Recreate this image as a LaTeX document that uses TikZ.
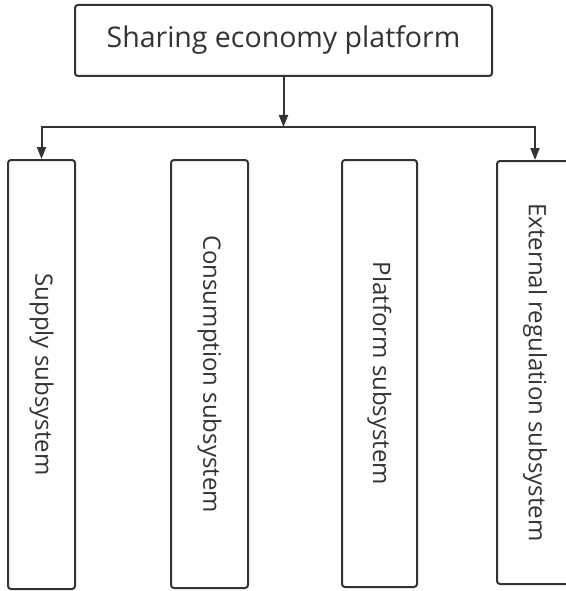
\documentclass[tikz,border=0pt]{standalone}
\usepackage{fontspec}
\setmainfont{Open Sans}
\usepackage{graphicx}
\usetikzlibrary{arrows.meta}
\definecolor{ink}{HTML}{333333}
\begin{document}
\begin{tikzpicture}[x=1pt,y=-1pt,
  box/.style={draw=ink,line width=2pt,rounded corners=3pt,inner sep=0pt,text=ink,font=\fontsize{24}{29}\selectfont},
  arr/.style={draw=ink,line width=2pt,-{Triangle[length=12pt,width=9pt]}}]
\useasboundingbox (0,0) rectangle (565,591);
\node[box,minimum width=417pt,minimum height=71pt,font=\fontsize{28.5}{34}\selectfont] (top) at (283.5,40.5) {Sharing economy platform};
\node[box,minimum width=67pt,minimum height=429pt] (b1) at (41.5,374.5) {\rotatebox{-90}{Supply subsystem}};
\node[box,minimum width=77pt,minimum height=428pt] (b2) at (209.5,374) {\rotatebox{-90}{Consumption subsystem}};
\node[box,minimum width=75pt,minimum height=427pt] (b3) at (379.5,373.5) {\rotatebox{-90}{Platform subsystem}};
\node[box,minimum width=76pt,minimum height=423pt] (b4) at (535,372.5) {\rotatebox{-90}{External regulation subsystem}};
\coordinate (j) at (283.5,127);
\draw[arr] (top.south) -- (j);
\draw[arr] (j) -| (b1.north);
\draw[arr] (j) -| (b4.north);
\end{tikzpicture}
\end{document}
